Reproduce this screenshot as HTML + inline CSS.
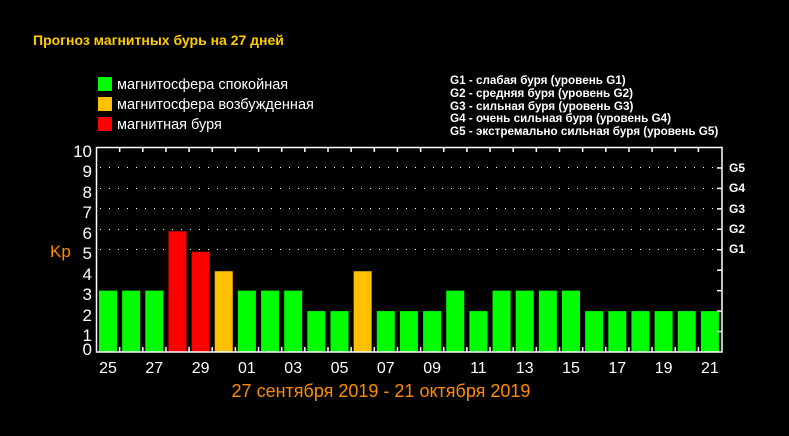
<!DOCTYPE html>
<html><head><meta charset="utf-8"><style>
html,body{margin:0;padding:0;background:#000;}
svg{display:block;font-family:"Liberation Sans",sans-serif;}
</style></head><body>
<svg width="789" height="436" xmlns="http://www.w3.org/2000/svg">
<rect width="789" height="436" fill="#000"/>
<text x="33" y="45" fill="#ffcc00" font-size="14" font-weight="bold">Прогноз магнитных бурь на 27 дней</text>
<rect x="98" y="77" width="14" height="14" fill="#00ff00"/>
<rect x="98" y="97" width="14" height="14" fill="#ffc000"/>
<rect x="98" y="117" width="14" height="14" fill="#ff0000"/>
<g fill="#fff" font-size="14.5">
<text x="117" y="89">магнитосфера спокойная</text>
<text x="117" y="109">магнитосфера возбужденная</text>
<text x="117" y="129">магнитная буря</text>
</g>
<g fill="#fff" font-size="11.7" font-weight="bold">
<text x="450" y="84">G1 - слабая буря (уровень G1)</text>
<text x="450" y="97">G2 - средняя буря (уровень G2)</text>
<text x="450" y="110">G3 - сильная буря (уровень G3)</text>
<text x="450" y="122">G4 - очень сильная буря (уровень G4)</text>
<text x="450" y="135">G5 - экстремально сильная буря (уровень G5)</text>
</g>
<g stroke="#fff" stroke-width="1" stroke-dasharray="1,8">
<line x1="100" y1="167.5" x2="720" y2="167.5"/>
<line x1="100" y1="188.5" x2="720" y2="188.5"/>
<line x1="100" y1="208.5" x2="720" y2="208.5"/>
<line x1="100" y1="229.5" x2="720" y2="229.5"/>
<line x1="100" y1="249.5" x2="720" y2="249.5"/>
</g>
<g id="bars"></g>
<rect x="96.5" y="147.5" width="625.5" height="204.5" fill="none" stroke="#fff" stroke-width="1.5"/>
<g id="ticks" stroke="#fff" stroke-width="1.5"></g>
<g fill="#fff" font-size="17" text-anchor="end">
<text x="92" y="157">10</text><text x="92" y="177">9</text><text x="92" y="198">8</text><text x="92" y="218">7</text><text x="92" y="239">6</text><text x="92" y="259">5</text><text x="92" y="280">4</text><text x="92" y="300">3</text><text x="92" y="321">2</text><text x="92" y="341">1</text><text x="92" y="355">0</text>
</g>
<text x="50" y="257" fill="#ff8c00" font-size="17">Kp</text>
<g fill="#fff" font-size="12" font-weight="bold">
<text x="729" y="172">G5</text><text x="729" y="192">G4</text><text x="729" y="213">G3</text><text x="729" y="233">G2</text><text x="729" y="253">G1</text>
</g>
<g id="xl" fill="#fff" font-size="16" text-anchor="middle"></g>
<text x="381" y="397" fill="#ff8c00" font-size="18" text-anchor="middle">27 сентября 2019 - 21 октября 2019</text>
</svg>
<script>
var v=[3,3,3,5.9,4.9,3.95,3,3,3,2,2,3.95,2,2,2,3,2,3,3,3,3,2,2,2,2,2,2];
var c=[0,0,0,2,2,1,0,0,0,0,0,1,0,0,0,0,0,0,0,0,0,0,0,0,0,0,0];
var col=["#00ff00","#ffc000","#ff0000"];
var lab=["25","27","29","01","03","05","07","09","11","13","15","17","19","21"];
var ns="http://www.w3.org/2000/svg",b=document.getElementById("bars"),t=document.getElementById("ticks"),xl=document.getElementById("xl");
var p=23.15,bot=352,u=20.45;
for(var i=0;i<27;i++){var x=99+i*p,h=v[i]*u;var r=document.createElementNS(ns,"rect");
r.setAttribute("x",x);r.setAttribute("y",bot-h);r.setAttribute("width",18);r.setAttribute("height",h);r.setAttribute("fill",col[c[i]]);b.appendChild(r);
if(i>0){var tx=x-2.5;[[147,152],[347,352]].forEach(function(a){var l=document.createElementNS(ns,"line");l.setAttribute("x1",tx);l.setAttribute("x2",tx);l.setAttribute("y1",a[0]);l.setAttribute("y2",a[1]);t.appendChild(l);});}
if(i%2==0){var tt=document.createElementNS(ns,"text");tt.setAttribute("x",x+9);tt.setAttribute("y",373);tt.textContent=lab[i/2];xl.appendChild(tt);}}
for(var k=1;k<10;k++){var y=bot-k*u;var l=document.createElementNS(ns,"line");l.setAttribute("x1",717);l.setAttribute("x2",722);l.setAttribute("y1",y);l.setAttribute("y2",y);t.appendChild(l);}
</script>
</body></html>
